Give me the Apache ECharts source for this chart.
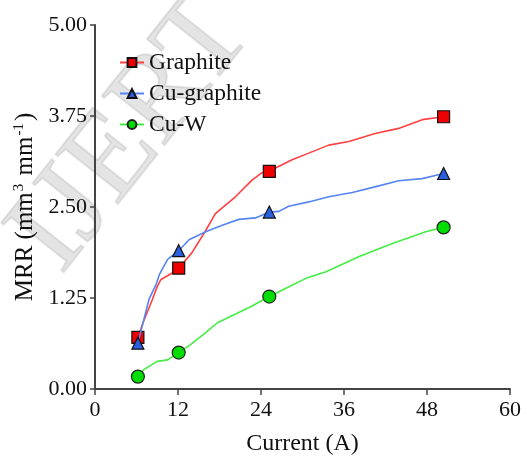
<!DOCTYPE html>
<html>
<head>
<meta charset="utf-8">
<script src="https://cdn.jsdelivr.net/npm/echarts@6/dist/echarts.min.js"></script>
<style>
html,body{margin:0;padding:0;background:#fff;}
#chart{width:527px;height:461px;}
</style>
</head>
<body>
<div id="chart"></div>
<script>
// Marker values
const currents = [6.2, 12.1, 25.2, 50.4];
const graphite = [0.71, 1.66, 2.99, 3.74];
const cuGraphite = [0.63, 1.90, 2.43, 2.96];
const cuW = [0.17, 0.50, 1.27, 2.22];

// Curve traces between markers
const graphiteTraceX = [7.1, 8.3, 9.0, 9.5, 11.1, 14.0, 15.9, 17.4, 20.3, 22.7, 24.1, 26.6, 28.5, 30.9, 33.8, 36.7, 40.5, 43.9, 47.3];
const graphiteTraceY = [0.95, 1.23, 1.41, 1.50, 1.59, 1.87, 2.16, 2.41, 2.64, 2.87, 2.97, 3.06, 3.15, 3.24, 3.35, 3.40, 3.51, 3.58, 3.70];
const cuGraphiteTraceX = [7.8, 8.8, 9.3, 10.5, 13.6, 16.0, 18.4, 20.8, 23.2, 26.6, 28.0, 30.9, 33.8, 37.2, 40.6, 43.9, 47.3];
const cuGraphiteTraceY = [1.23, 1.43, 1.57, 1.78, 2.05, 2.16, 2.25, 2.33, 2.35, 2.44, 2.51, 2.57, 2.64, 2.70, 2.78, 2.86, 2.89];
const cuWTraceX = [7.1, 9.0, 10.5, 13.8, 15.7, 17.7, 20.1, 22.5, 27.1, 30.5, 33.4, 38.2, 43.0, 47.8];
const cuWTraceY = [0.27, 0.38, 0.40, 0.61, 0.75, 0.91, 1.02, 1.13, 1.36, 1.52, 1.61, 1.82, 2.00, 2.16];

const seriesNames = ['Graphite', 'Cu-graphite', 'Cu-W'];
const xTicks = [0, 12, 24, 36, 48, 60];
const yTicks = [0, 1.25, 2.5, 3.75, 5];

function build(xs, ys, tx, ty) {
  const pts = xs.map((x, i) => ({ value: [x, ys[i]] }));
  tx.forEach((x, i) => pts.push({ value: [x, ty[i]], symbol: 'none' }));
  pts.sort((a, b) => a.value[0] - b.value[0]);
  return pts;
}

const serif = 'Liberation Serif, Times New Roman, serif';
const chart = echarts.init(document.getElementById('chart'), null, { renderer: 'canvas' });

chart.setOption({
  animation: false,
  backgroundColor: '#fff',
  graphic: [{
    type: 'text',
    z: -10,
    rotation: 0.9,
    x: -12, y: 218,
    style: {
      text: 'IJERT',
      fontFamily: serif,
      fontSize: 122,
      fill: 'rgba(120,120,120,0.2)',
      stroke: 'rgba(150,150,150,0.22)',
      lineWidth: 2
    }
  }],
  legend: {
    orient: 'vertical',
    left: 114,
    top: 45,
    itemWidth: 24,
    itemHeight: 11,
    itemGap: 6,
    data: seriesNames,
    textStyle: { fontFamily: serif, fontSize: 23.5, color: '#111', lineHeight: 25 }
  },
  grid: { left: 95, right: 17, top: 25, bottom: 72, containLabel: false },
  xAxis: {
    type: 'value',
    min: xTicks[0], max: xTicks[xTicks.length - 1], interval: 12,
    name: 'Current (A)',
    nameLocation: 'middle',
    nameGap: 43,
    nameTextStyle: { fontFamily: serif, fontSize: 24, color: '#111' },
    axisLine: { lineStyle: { color: '#444', width: 2 } },
    axisTick: { show: true, length: 6, lineStyle: { color: '#444', width: 1.5 } },
    axisLabel: { fontFamily: serif, fontSize: 22, color: '#111', margin: 10 },
    splitLine: { show: false }
  },
  yAxis: {
    type: 'value',
    min: yTicks[0], max: yTicks[yTicks.length - 1], interval: 1.25,
    name: '{a|MRR (mm}{s|3}{a| mm}{s|-1}{a|)}',
    nameLocation: 'middle',
    nameGap: 56,
    nameRotate: 90,
    nameTextStyle: {
      rich: {
        a: { fontFamily: serif, fontSize: 25, color: '#111', lineHeight: 27 },
        s: { fontFamily: serif, fontSize: 15, color: '#111', lineHeight: 27, verticalAlign: 'top', padding: [0, 2, 8, 1] }
      }
    },
    axisLine: { show: true, lineStyle: { color: '#444', width: 2 } },
    axisTick: { show: true, length: 5, lineStyle: { color: '#444', width: 1.5 } },
    axisLabel: { fontFamily: serif, fontSize: 22, color: '#111', margin: 8, formatter: v => v.toFixed(2) },
    splitLine: { show: false }
  },
  series: [
    {
      name: seriesNames[0], type: 'line',
      data: build(currents, graphite, graphiteTraceX, graphiteTraceY),
      symbol: 'rect', symbolSize: 12,
      itemStyle: { color: '#ee0000', borderColor: '#111', borderWidth: 1.2 },
      lineStyle: { color: '#ff4040', width: 1.6 },
      z: 2
    },
    {
      name: seriesNames[1], type: 'line',
      data: build(currents, cuGraphite, cuGraphiteTraceX, cuGraphiteTraceY),
      symbol: 'triangle', symbolSize: 12,
      itemStyle: { color: '#2a5fe0', borderColor: '#111', borderWidth: 1.2 },
      lineStyle: { color: '#5585f5', width: 1.6 },
      z: 3
    },
    {
      name: seriesNames[2], type: 'line',
      data: build(currents, cuW, cuWTraceX, cuWTraceY),
      symbol: 'circle', symbolSize: 13,
      itemStyle: { color: '#00dd00', borderColor: '#222', borderWidth: 1.2 },
      lineStyle: { color: '#44ee44', width: 1.6 },
      z: 4
    }
  ]
});
</script>
</body>
</html>
